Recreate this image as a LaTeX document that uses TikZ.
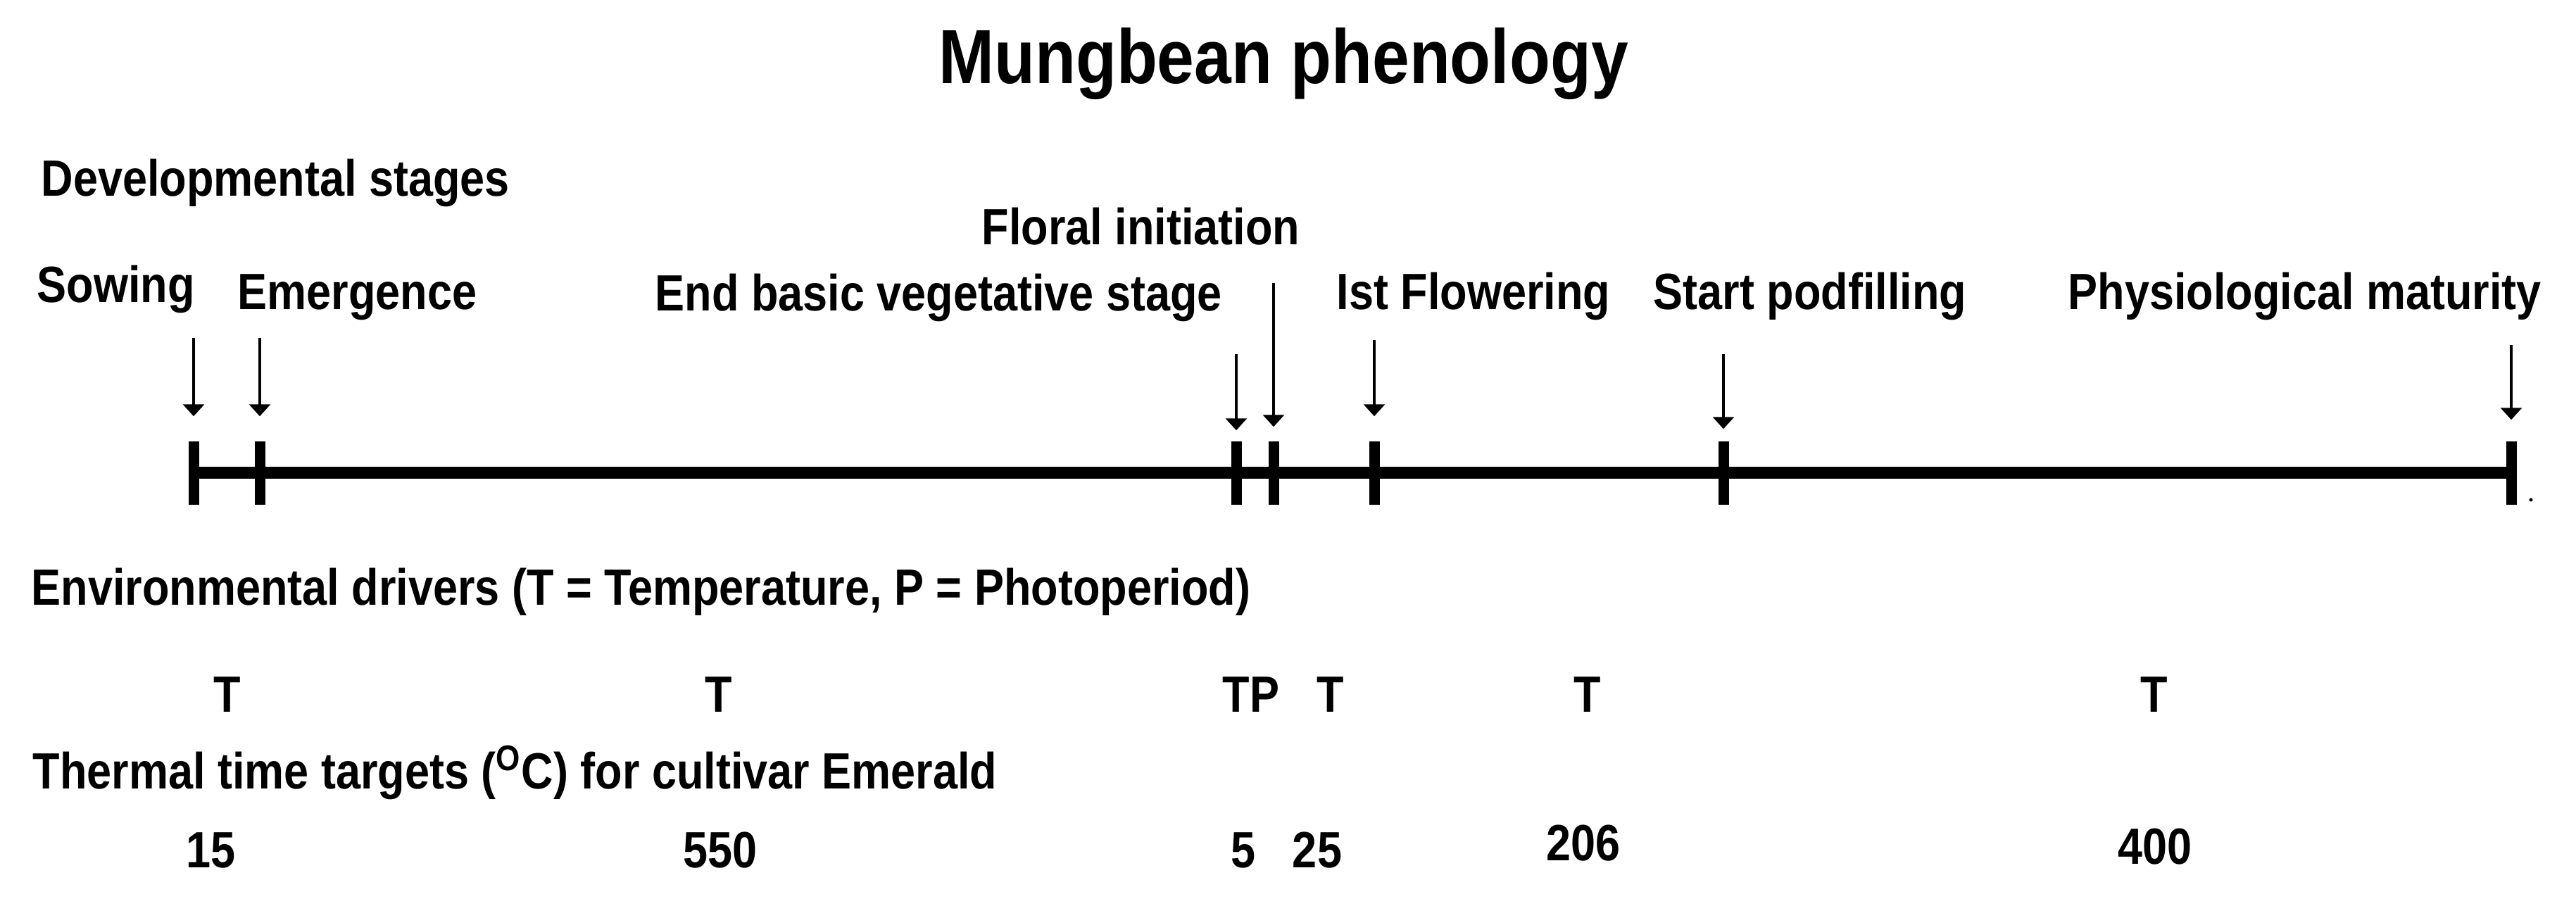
\documentclass[tikz,border=0pt]{standalone}
\usepackage{fontspec}
\setmainfont{Liberation Sans}[FakeStretch=0.87]
\usetikzlibrary{arrows.meta,positioning}

\tikzset{
    lbl/.style={anchor=base west, inner sep=0pt, font=\bfseries\fontsize{20.6}{24}\selectfont},
    val/.style={anchor=base, inner sep=0pt, font=\bfseries\fontsize{20.6}{24}\selectfont},
    tickbar/.style={fill=black, inner sep=0pt, minimum width=0.15cm, minimum height=0.9cm},
    pointer/.style={line width=0.9pt, -{Triangle[width=0.3cm,length=0.17cm]}},
}

\begin{document}
\begin{tikzpicture}
    \useasboundingbox (0,0) rectangle (36.59,-12.77);

    \node [anchor=base, inner sep=0pt, font=\bfseries\fontsize{31}{36}\selectfont] (title) at (18.23,-1.19) {Mungbean phenology};

    % stage labels
    \node [lbl] (devstages) at (0.58,-2.79) {Developmental stages};
    \node [lbl] (l-flo) at (13.94,-3.48) {Floral initiation};
    \node [lbl] (l-sow) at (0.52,-4.30) {Sowing};
    \node [lbl] (l-emg) at (3.37,-4.40) {Emergence};
    \node [lbl] (l-veg) at (9.30,-4.42) {End basic vegetative stage};
    \node [lbl] (l-fl1) at (18.98,-4.40) {Ist Flowering};
    \node [lbl] (l-pod) at (23.48,-4.40) {Start podfilling};
    \node [lbl] (l-mat) at (29.37,-4.40) {Physiological maturity};

    % time line with its ticks
    \node [tickbar] (t-sow) at (2.75,-6.72) {};
    \node [tickbar] (t-emg) at (3.69,-6.72) {};
    \node [tickbar] (t-veg) at (17.56,-6.72) {};
    \node [tickbar] (t-flo) at (18.09,-6.72) {};
    \node [tickbar] (t-fl1) at (19.52,-6.72) {};
    \node [tickbar] (t-pod) at (24.48,-6.72) {};
    \node [tickbar] (t-mat) at (35.67,-6.72) {};
    \draw [line width=0.17cm] (t-sow.center) -- (t-mat.center);
    \fill (35.95,-7.10) circle (0.025);

    \coordinate (a-sow) at (2.75,-4.80);
    \coordinate (a-emg) at (3.69,-4.80);
    \coordinate (a-veg) at (17.56,-5.03);
    \coordinate (a-flo) at (18.09,-4.02);
    \coordinate (a-fl1) at (19.52,-4.83);
    \coordinate (a-pod) at (24.48,-5.03);
    \coordinate (a-mat) at (35.67,-4.90);
    \draw [pointer, shorten >=0.35cm] (a-sow) -- (t-sow);
    \draw [pointer, shorten >=0.35cm] (a-emg) -- (t-emg);
    \draw [pointer, shorten >=0.15cm] (a-veg) -- (t-veg);
    \draw [pointer, shorten >=0.20cm] (a-flo) -- (t-flo);
    \draw [pointer, shorten >=0.35cm] (a-fl1) -- (t-fl1);
    \draw [pointer, shorten >=0.17cm] (a-pod) -- (t-pod);
    \draw [pointer, shorten >=0.30cm] (a-mat) -- (t-mat);

    % drivers
    \node [lbl] (envdrivers) at (0.44,-8.60) {Environmental drivers (T = Temperature, P = Photoperiod)};
    \node [val] (d-1) at (3.23,-10.12) {T};
    \node [val] (d-2) at (10.21,-10.12) {T};
    \node [val] (d-3) at (17.77,-10.12) {TP};
    \node [val] (d-4) at (18.90,-10.12) {T};
    \node [val] (d-5) at (22.55,-10.12) {T};
    \node [val] (d-6) at (30.60,-10.12) {T};

    % thermal time targets
    \node [lbl] (thermal) at (0.46,-11.21) {Thermal time targets (\textsuperscript{O}C) for cultivar Emerald};
    \node [val] (n-1) at (3.00,-12.33) {15};
    \node [val] (n-2) at (10.23,-12.33) {550};
    \node [val] (n-3) at (17.66,-12.33) {5};
    \node [val] (n-4) at (18.71,-12.33) {25};
    \node [val] (n-5) at (22.49,-12.23) {206};
    \node [val] (n-6) at (30.61,-12.28) {400};
\end{tikzpicture}
\end{document}
